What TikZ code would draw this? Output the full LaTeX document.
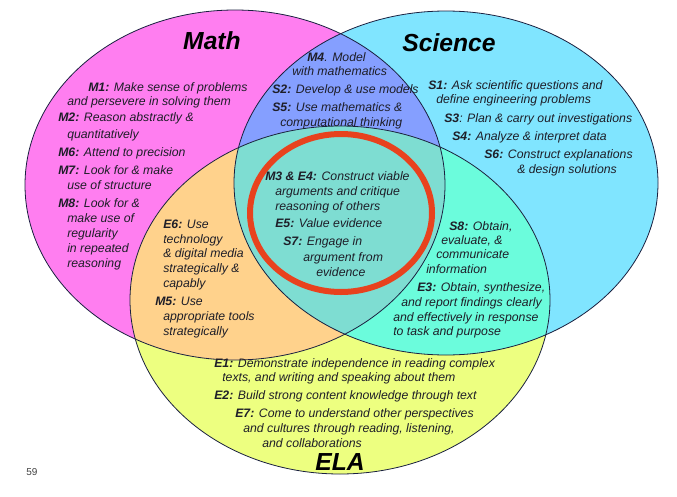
\documentclass[tikz,border=0pt]{standalone}
\usepackage{fontspec}
\setmainfont{Liberation Sans}
\definecolor{mathc}{HTML}{FF7EF0}
\definecolor{scic}{HTML}{80E5FF}
\definecolor{elac}{HTML}{EDFF80}
\definecolor{msc}{HTML}{859FFF}
\definecolor{mec}{HTML}{FFD28C}
\definecolor{sec}{HTML}{6BFCDC}
\definecolor{allc}{HTML}{7EDDD2}
\definecolor{ringc}{HTML}{E8421E}
\definecolor{ink}{HTML}{1E1E28}
\definecolor{edgec}{HTML}{1A2040}
\newcommand\tline[4]{\node[txt] (#1) at (#2,#3) {#4};}
\begin{document}
\begin{tikzpicture}[x=0.75pt,y=-0.75pt,
  txt/.style={font=\fontsize{9.2pt}{11pt}\selectfont\itshape, text=ink, inner sep=0pt, anchor=mid west},
  ttl/.style={font=\fontsize{18.5pt}{22pt}\selectfont\bfseries\itshape, text=black, inner sep=0pt},
  outline/.style={draw=edgec, line width=0.6pt},
  ringstyle/.style={draw=ringc, line width=4.5pt}]
\useasboundingbox[fill=white] (0,0) rectangle (677,496);
% base fills
\fill[mathc] (235,185) ellipse [x radius=157.5pt, y radius=131.25pt];
\fill[scic] (446,183) ellipse [x radius=159pt, y radius=129pt];
\fill[elac] (340,300) ellipse [x radius=157.5pt, y radius=130.5pt];
% Math & Science
\begin{scope}
\clip (235,185) ellipse [x radius=157.5pt, y radius=131.25pt];
\fill[msc] (446,183) ellipse [x radius=159pt, y radius=129pt];
\fill[mec] (340,300) ellipse [x radius=157.5pt, y radius=130.5pt];
\end{scope}
\begin{scope}
\clip (446,183) ellipse [x radius=159pt, y radius=129pt];
\fill[sec] (340,300) ellipse [x radius=157.5pt, y radius=130.5pt];
\end{scope}
\begin{scope}
\clip (235,185) ellipse [x radius=157.5pt, y radius=131.25pt];
\clip (446,183) ellipse [x radius=159pt, y radius=129pt];
\fill[allc] (340,300) ellipse [x radius=157.5pt, y radius=130.5pt];
\end{scope}
% outlines
\draw[outline] (235,185) ellipse [x radius=157.5pt, y radius=131.25pt];
\draw[outline] (446,183) ellipse [x radius=159pt, y radius=129pt];
\draw[outline] (340,300) ellipse [x radius=157.5pt, y radius=130.5pt];
% red ring
\draw[ringstyle] (341,213) ellipse [x radius=68.25pt, y radius=59.25pt];
% titles
\node[ttl] (tmath) at (212,41) {Math};
\node[ttl] (tsci) at (449,43) {Science};
\node[ttl] (tela) at (340,462) {ELA};
% Math
\tline{m1a}{88}{88}{\textbf{M1:} Make sense of problems}
\tline{m1b}{67}{102}{and persevere in solving them}
\tline{m2a}{58}{118}{\textbf{M2:} Reason abstractly \&}
\tline{m2b}{67}{135}{quantitatively}
\tline{m6}{58}{153}{\textbf{M6:} Attend to precision}
\tline{m7a}{58}{171}{\textbf{M7:} Look for \& make}
\tline{m7b}{67}{186}{use of structure}
\tline{m8a}{58}{204}{\textbf{M8:} Look for \&}
\tline{m8b}{67}{219}{make use of}
\tline{m8c}{67}{234}{regularity}
\tline{m8d}{67}{249}{in repeated}
\tline{m8e}{67}{264}{reasoning}
% Math & Science
\tline{m4a}{307}{58}{\textbf{M4}. Model}
\tline{m4b}{292}{72}{with mathematics}
\tline{s2}{272}{90}{\textbf{S2:} Develop \& use models}
\tline{s5a}{272}{108}{\textbf{S5:} Use mathematics \&}
\tline{s5b}{280}{123}{computational thinking}
% Science
\tline{s1a}{428}{86}{\textbf{S1:} Ask scientific questions and}
\tline{s1b}{436}{100}{define engineering problems}
\tline{s3}{444}{119}{\textbf{S3}: Plan \& carry out investigations}
\tline{s4}{452}{137}{\textbf{S4:} Analyze \& interpret data}
\tline{s6a}{484}{155}{\textbf{S6:} Construct explanations}
\tline{s6b}{517}{170}{\& design solutions}
% centre
\tline{c1}{265}{177}{\textbf{M3 \& E4:} Construct viable}
\tline{c2}{275}{192}{arguments and critique}
\tline{c3}{275}{207}{reasoning of others}
\tline{c4}{275}{224}{\textbf{E5:} Value evidence}
\tline{c5}{283}{242}{\textbf{S7:} Engage in}
\tline{c6}{303}{258}{argument from}
\tline{c7}{316}{273}{evidence}
% Math & ELA
\tline{e6a}{163}{225}{\textbf{E6:} Use}
\tline{e6b}{163}{240}{technology}
\tline{e6c}{163}{254}{\& digital media}
\tline{e6d}{163}{269}{strategically \&}
\tline{e6e}{163}{284}{capably}
\tline{m5a}{155}{302}{\textbf{M5:} Use}
\tline{m5b}{163}{317}{appropriate tools}
\tline{m5c}{163}{332}{strategically}
% Science & ELA
\tline{s8a}{449}{227}{\textbf{S8:} Obtain,}
\tline{s8b}{441}{241}{evaluate, \&}
\tline{s8c}{436}{255}{communicate}
\tline{s8d}{426}{270}{information}
\tline{e3a}{417}{288}{\textbf{E3:} Obtain, synthesize,}
\tline{e3b}{401}{303}{and report findings clearly}
\tline{e3c}{393}{318}{and effectively in response}
\tline{e3d}{393}{332}{to task and purpose}
% ELA
\tline{e1a}{214}{364}{\textbf{E1:} Demonstrate independence in reading complex}
\tline{e1b}{222}{378}{texts, and writing and speaking about them}
\tline{e2}{214}{396}{\textbf{E2:} Build strong content knowledge through text}
\tline{e7a}{235}{414}{\textbf{E7:} Come to understand other perspectives}
\tline{e7b}{243}{429}{and cultures through reading, listening,}
\tline{e7c}{262}{444}{and collaborations}
% page number
\node[font=\fontsize{7.5pt}{9pt}\selectfont, text=black!75, inner sep=0pt] (pg) at (32,472) {59};
\end{tikzpicture}
\end{document}
